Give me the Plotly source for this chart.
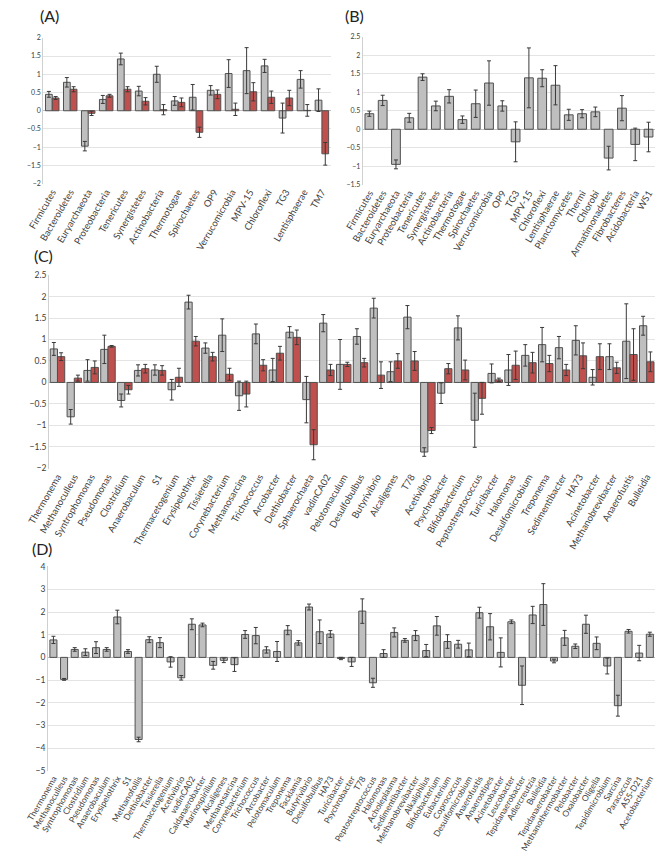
import plotly.graph_objects as go

# ---------------- DATA ----------------
A_cats = ["Firmicutes", "Bacteroidetes", "Euryarchaeota", "Proteobacteria", "Tenericutes",
          "Synergistetes", "Actinobacteria", "Thermotogae", "Spirochaetes", "OP9",
          "Verrucomicrobia", "MPV-15", "Chloroflexi", "TG3", "Lentisphaerae", "TM7"]
A_gray = [0.45, 0.78, -0.97, 0.31, 1.42, 0.54, 1.00, 0.27, 0.37, 0.56, 1.02, 1.10, 1.23, -0.20, 0.86, 0.29]
A_gray_err = [0.08, 0.13, 0.13, 0.11, 0.16, 0.13, 0.22, 0.12, 0.35, 0.13, 0.38, 0.63, 0.18, 0.41, 0.24, 0.31]
A_red = [0.35, 0.59, -0.07, 0.41, 0.59, 0.26, 0.03, 0.23, -0.59, 0.45, 0.04, 0.52, 0.37, 0.35, 0.01, -1.18]
A_red_err = [0.04, 0.07, 0.06, 0.04, 0.07, 0.10, 0.14, 0.12, 0.14, 0.12, 0.17, 0.25, 0.17, 0.21, 0.16, 0.31]

B_cats = ["Firmicutes", "Bacteroidetes", "Euryarchaeota", "Proteobacteria", "Tenericutes",
          "Synergistetes", "Actinobacteria", "Thermotogae", "Spirochaetes", "Verrucomicrobia",
          "OP9", "TG3", "MPV-15", "Chloroflexi", "Lentisphaerae", "Planctomycetes", "Thermi",
          "Chlorobi", "Armatimonadetes", "Fibrobacteres", "Acidobacteria", "WS1"]
B_vals = [0.42, 0.78, -0.95, 0.31, 1.41, 0.63, 0.89, 0.26, 0.69, 1.25, 0.63, -0.34, 1.39, 1.38,
          1.19, 0.39, 0.42, 0.47, -0.78, 0.57, -0.41, -0.21]
B_err = [0.07, 0.14, 0.12, 0.12, 0.09, 0.13, 0.18, 0.10, 0.37, 0.60, 0.14, 0.54, 0.81, 0.23,
         0.53, 0.15, 0.11, 0.13, 0.32, 0.34, 0.44, 0.40]

C_cats = ["Thermonema", "Methanoculleus", "Syntrophomonas", "Pseudomonas", "Clostridium",
          "Anaerobaculum", "S1", "Thermacetogenium", "Erysipelothrix", "Tissierella",
          "Corynebacterium", "Methanosarcina", "Trichococcus", "Arcobacter", "Dethiobacter",
          "Sphaerochaeta", "vadinCA02", "Pelotomaculum", "Desulfobulbus", "Butyrivibrio",
          "Alcaligenes", "T78", "Acetivibrio", "Psychrobacter", "Bifidobacterium",
          "Peptostreptococcus", "Turicibacter", "Halomonas", "Desulfomicrobium", "Treponema",
          "Sedimentibacter", "HA73", "Acinetobacter", "Methanobrevibacter", "Anaerofustis",
          "Bulleidia"]
C_gray = [0.78, -0.80, 0.28, 0.77, -0.42, 0.28, 0.29, -0.17, 1.87, 0.80, 1.10, -0.31, 1.13, 0.29,
          1.17, -0.40, 1.38, 0.42, 1.07, 1.73, 0.25, 1.52, -1.62, -0.25, 1.27, -0.88, 0.21, 0.29,
          0.63, 0.88, 0.81, 0.98, 0.12, 0.60, 0.96, 1.32]
C_gray_err = [0.15, 0.17, 0.25, 0.33, 0.15, 0.13, 0.12, 0.24, 0.16, 0.12, 0.38, 0.34, 0.23, 0.27,
              0.13, 0.54, 0.20, 0.58, 0.18, 0.23, 0.23, 0.27, 0.10, 0.24, 0.28, 0.63, 0.22, 0.36,
              0.25, 0.40, 0.26, 0.34, 0.18, 0.30, 0.87, 0.22]
C_red = [0.60, 0.10, 0.35, 0.84, -0.17, 0.32, 0.28, 0.12, 0.96, 0.60, 0.19, -0.27, 0.40, 0.68,
         1.05, -1.45, 0.29, 0.42, 0.46, 0.17, 0.50, 0.50, -1.12, 0.32, 0.29, -0.37, 0.06, 0.40,
         0.46, 0.44, 0.29, 0.62, 0.60, 0.34, 0.65, 0.48]
C_red_err = [0.09, 0.07, 0.15, 0.02, 0.10, 0.10, 0.11, 0.21, 0.11, 0.10, 0.14, 0.30, 0.13, 0.16,
             0.17, 0.35, 0.13, 0.05, 0.10, 0.31, 0.17, 0.22, 0.07, 0.12, 0.23, 0.37, 0.04, 0.33,
             0.24, 0.19, 0.13, 0.30, 0.30, 0.13, 0.60, 0.23]

D_cats = ["Thermonema", "Methanoculleus", "Syntrophomonas", "Clostridium", "Pseudomonas",
          "Anaerobaculum", "Erysipelothrix", "S1", "Methanofollis", "Dethiobacter", "Tissierella",
          "Thermacetogenium", "Acetivibrio", "vadinCA02", "Caldanaerobacter", "Marinospirillum",
          "Alcaligenes", "Methanosarcina", "Corynebacterium", "Trichococcus", "Arcobacter",
          "Pelotomaculum", "Treponema", "Facklamia", "Butyrivibrio", "Desulfobulbus", "HA73",
          "Turicibacter", "Psychrobacter", "T78", "Peptostreptococcus", "Halomonas",
          "Acholeplasma", "Sedimentibacter", "Methanobrevibacter", "Alkaliphilus",
          "Bifidobacterium", "Eubacterium", "Coprococcus", "Desulfomicrobium", "Anaerofustis",
          "Anaerostipes", "Acinetobacter", "Leucobacter", "Tepidanaerobacter", "Adlercreutzia",
          "Bulleidia", "Tepidanaerobacter", "Methanothermobacter", "Pelobacter", "Oxalobacter",
          "Oligella", "Tepidimicrobium", "Sarcina", "Paracoccus", "A55-D21", "Acetobacterium"]
D_vals = [0.77, -0.97, 0.35, 0.23, 0.43, 0.35, 1.78, 0.26, -3.62, 0.78, 0.65, -0.20, -0.90, 1.46,
          1.43, -0.35, -0.13, -0.32, 1.01, 0.96, 0.33, 0.26, 1.20, 0.64, 2.22, 1.13, 1.03, -0.05,
          -0.20, 2.04, -1.12, 0.17, 1.10, 0.75, 0.96, 0.30, 1.39, 0.70, 0.58, 0.33, 1.97, 1.35,
          0.22, 1.57, -1.23, 1.87, 2.33, -0.16, 0.86, 0.49, 1.46, 0.62, -0.38, -2.13, 1.15, 0.19,
          1.02]
D_err = [0.16, 0.04, 0.08, 0.15, 0.26, 0.08, 0.30, 0.08, 0.10, 0.13, 0.22, 0.23, 0.10, 0.24, 0.08,
         0.17, 0.10, 0.30, 0.17, 0.36, 0.14, 0.44, 0.20, 0.10, 0.13, 0.52, 0.15, 0.05, 0.20, 0.54,
         0.20, 0.17, 0.20, 0.08, 0.22, 0.27, 0.41, 0.30, 0.17, 0.30, 0.24, 0.58, 0.64, 0.08, 0.85,
         0.38, 0.92, 0.08, 0.33, 0.10, 0.40, 0.28, 0.35, 0.46, 0.08, 0.34, 0.09]

# ---------------- STYLE ----------------
W, H = 660, 863
FONT = "Lato"
GRAY = "#bfbfbf"
RED = "#c0504d"
EDGE = "#505050"
ERR = "#3a3a3a"

fig = go.Figure()


def err(a):
    return dict(type="data", array=a, visible=True, color=ERR, thickness=1, width=2)


def add_bars(xname, yname, vals, errs, color, offset, width):
    fig.add_trace(go.Bar(
        x=list(range(len(vals))), y=vals, error_y=err(errs),
        marker=dict(color=color, line=dict(color=EDGE, width=1)),
        offset=offset, width=width, xaxis=xname, yaxis=yname, showlegend=False,
        hoverinfo="skip"))


# A
add_bars("x", "y", A_gray, A_gray_err, GRAY, -0.375, 0.375)
add_bars("x", "y", A_red, A_red_err, RED, 0.0, 0.375)
# B
add_bars("x2", "y2", B_vals, B_err, GRAY, -0.33, 0.66)
# C
add_bars("x3", "y3", C_gray, C_gray_err, GRAY, -0.43, 0.43)
add_bars("x3", "y3", C_red, C_red_err, RED, 0.0, 0.43)
# D
add_bars("x4", "y4", D_vals, D_err, GRAY, -0.33, 0.66)


def xd(l, r):
    return [l / W, r / W]


def yd(top, bottom):
    return [1 - bottom / H, 1 - top / H]


def xaxis(dom, cats, anchor, fs):
    return dict(domain=dom, anchor=anchor, range=[-0.5, len(cats) - 0.5],
                tickvals=list(range(len(cats))), ticktext=cats, tickangle=-60,
                showgrid=False, showline=False, zeroline=False, ticks="",
                tickfont=dict(family=FONT, size=fs, color="#404040"))


def yaxis(dom, rng, dtick, anchor, fs):
    return dict(domain=dom, anchor=anchor, range=rng, dtick=dtick,
                showgrid=True, gridcolor="#e4e4e4", gridwidth=1,
                zeroline=True, zerolinecolor="#bdbdbd", zerolinewidth=1,
                showline=True, linecolor="#d0d0d0", linewidth=1, ticks="",
                tickfont=dict(family=FONT, size=fs, color="#404040"))


fig.update_layout(
    width=W, height=H, margin=dict(l=0, r=0, t=0, b=0),
    paper_bgcolor="white", plot_bgcolor="white", barmode="overlay",
    font=dict(family=FONT, color="#404040"),
    xaxis=xaxis(xd(21, 319), A_cats, "y", 9.5),
    yaxis=yaxis(yd(33, 181), [-2.005, 2.005], 0.5, "x", 7),
    xaxis2=xaxis(xd(352, 655), B_cats, "y2", 9.5),
    yaxis2=yaxis(yd(32, 182), [-1.505, 2.505], 0.5, "x2", 7),
    xaxis3=xaxis(xd(27, 655), C_cats, "y3", 9.5),
    yaxis3=yaxis(yd(273, 469), [-2.005, 2.505], 0.5, "x3", 8.5),
    xaxis4=xaxis(xd(26, 655), D_cats, "y4", 8.5),
    yaxis4=yaxis(yd(568, 775), [-5.01, 4.01], 1, "x4", 8.5),
)

titles = [("(A)", 16, 11), ("(B)", 332, 11), ("(C)", 9, 253), ("(D)", 7, 550)]
for txt, px, py in titles:
    fig.add_annotation(text=txt, x=px / W, y=1 - py / H, xref="paper", yref="paper",
                       xanchor="left", yanchor="middle", showarrow=False,
                       font=dict(family=FONT, size=16, color="#222222"))

fig.write_html("out.html", config={"displayModeBar": False},
               post_script="document.body.style.margin='0px';document.body.style.overflow='hidden';")
